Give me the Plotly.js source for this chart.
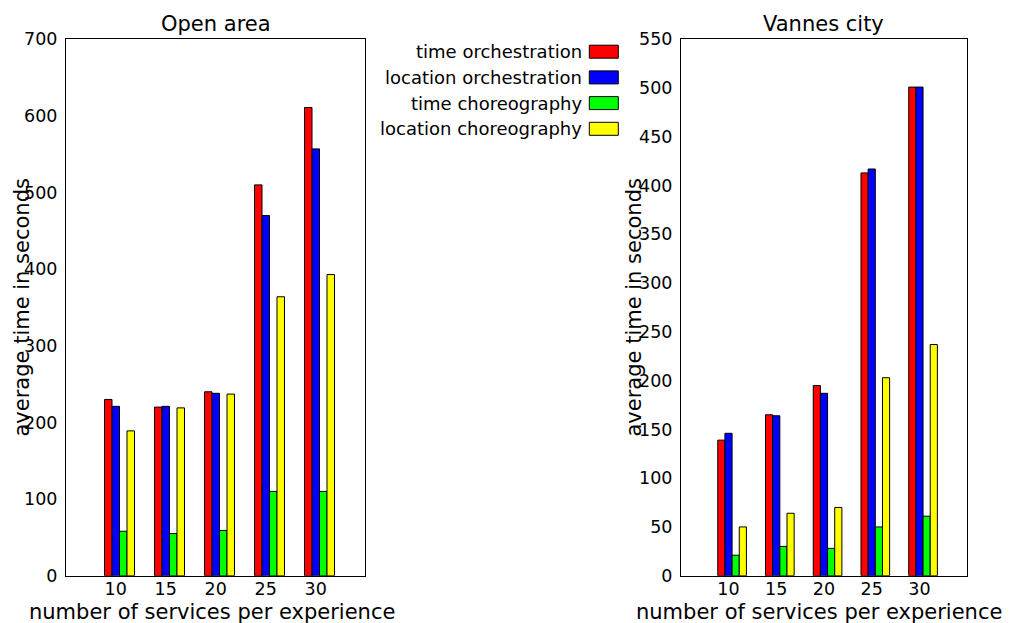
<!DOCTYPE html>
<html>
<head>
<meta charset="utf-8">
<script src="https://cdn.plot.ly/plotly-3.0.1.min.js"></script>
<style>html,body{margin:0;padding:0;background:#fff;}#chart{width:1013px;height:623px;}</style>
</head>
<body>
<div id="chart"></div>
<script>
// ---- data ----
const services = [10, 15, 20, 25, 30];
const seriesNames = ["time orchestration", "location orchestration", "time choreography", "location choreography"];
const seriesColors = ["#ff0000", "#0000ff", "#00ff00", "#ffff00"];

const openTimeOrch = [230, 220, 240, 510, 611];
const openLocOrch  = [221, 221, 238, 470, 557];
const openTimeChor = [58, 55, 59, 110, 110];
const openLocChor  = [189, 219, 237, 364, 393];

const vannesTimeOrch = [139, 165, 195, 413, 501];
const vannesLocOrch  = [146, 164, 187, 417, 501];
const vannesTimeChor = [21, 30, 28, 50, 61];
const vannesLocChor  = [50, 64, 70, 203, 237];

const openSeries = [openTimeOrch, openLocOrch, openTimeChor, openLocChor];
const vannesSeries = [vannesTimeOrch, vannesLocOrch, vannesTimeChor, vannesLocChor];

// ---- layout constants ----
const W = 1013, H = 623;
const FONT = "DejaVu Sans";
const barW = 0.75;
const px = v => v / W;
const py = v => (H - v) / H;

const traces = [];
function addSeries(list, xa, ya) {
  list.forEach((vals, i) => {
    traces.push({
      type: "bar",
      x: services,
      y: vals,
      xaxis: xa,
      yaxis: ya,
      width: barW,
      offset: i * barW,
      name: seriesNames[i],
      showlegend: false,
      marker: { color: seriesColors[i], line: { color: "#000", width: 1 } },
      hoverinfo: "x+y+name"
    });
  });
}
addSeries(openSeries, "x", "y");
addSeries(vannesSeries, "x2", "y2");

const tickPos = services.map(s => s + 1.5 * barW);
const xCommon = {
  range: [6.15, 36.05],
  tickvals: tickPos,
  ticktext: services.map(String),
  showgrid: false, zeroline: false,
  showline: true, mirror: true, linecolor: "#000", linewidth: 1,
  ticks: "", ticklabelstandoff: -3,
  tickfont: { family: FONT, size: 17.5, color: "#000" },
  fixedrange: true
};
const yCommon = {
  showgrid: false, zeroline: false,
  showline: true, mirror: true, linecolor: "#000", linewidth: 1,
  ticks: "", ticklabelstandoff: 4,
  tickfont: { family: FONT, size: 17.5, color: "#000" },
  domain: [py(575.7), py(39.3)],
  fixedrange: true
};

const annotations = [];
const shapes = [];
// subplot titles
annotations.push({ text: "Open area", xref: "x domain", x: 0.5, yref: "paper", y: py(24), xanchor: "center", yanchor: "middle", showarrow: false, font: { family: FONT, size: 21, color: "#000" } });
annotations.push({ text: "Vannes city", xref: "x2 domain", x: 0.5, yref: "paper", y: py(24), xanchor: "center", yanchor: "middle", showarrow: false, font: { family: FONT, size: 21, color: "#000" } });
// axis titles
[212, 819].forEach(cx => annotations.push({ text: "number of services per experience", xref: "paper", x: px(cx), yref: "paper", y: py(612), xanchor: "center", yanchor: "middle", showarrow: false, font: { family: FONT, size: 21, color: "#000" } }));
[21, 633].forEach(cx => annotations.push({ text: "average time in seconds", textangle: -90, xref: "paper", x: px(cx), yref: "paper", y: py(307.5), xanchor: "center", yanchor: "middle", showarrow: false, font: { family: FONT, size: 21, color: "#000" } }));
// legend (text on the left, swatch on the right)
const legTop = 51.7, legStep = 25.7;
seriesNames.forEach((nm, i) => {
  const cy = legTop + i * legStep;
  annotations.push({ text: nm, xref: "paper", x: px(584), yref: "paper", y: py(cy), xanchor: "right", yanchor: "middle", showarrow: false, font: { family: FONT, size: 18, color: "#000" } });
  shapes.push({ type: "rect", xref: "paper", yref: "paper", x0: px(589.3), x1: px(618.3), y0: py(cy + 6.5), y1: py(cy - 6.5), fillcolor: seriesColors[i], line: { color: "#000", width: 1 } });
});

const layout = {
  width: W, height: H,
  margin: { l: 0, r: 0, t: 0, b: 0 },
  paper_bgcolor: "#fff", plot_bgcolor: "#fff",
  barmode: "overlay",
  showlegend: false,
  font: { family: FONT, color: "#000" },
  xaxis: Object.assign({}, xCommon, { domain: [px(66), px(365)], anchor: "y" }),
  yaxis: Object.assign({}, yCommon, { range: [0, 700], dtick: 100, tick0: 0, anchor: "x" }),
  xaxis2: Object.assign({}, xCommon, { domain: [px(681), px(966.5)], anchor: "y2" }),
  yaxis2: Object.assign({}, yCommon, { range: [0, 550], dtick: 50, tick0: 0, anchor: "x2" }),
  annotations: annotations,
  shapes: shapes
};

Plotly.newPlot("chart", traces, layout, { displayModeBar: false, staticPlot: true });
</script>
</body>
</html>
